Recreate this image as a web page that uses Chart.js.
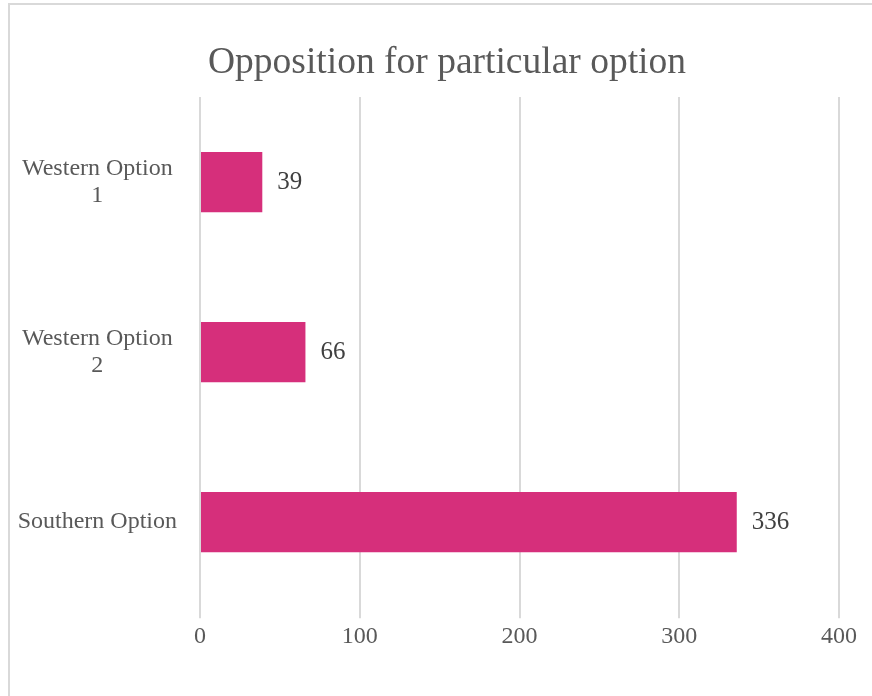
<!DOCTYPE html>
<html>
<head>
<meta charset="utf-8">
<script src="https://cdn.jsdelivr.net/npm/chart.js@4"></script>
<style>
  html, body { margin: 0; padding: 0; background: #fff; overflow: hidden; }
  #frame { position: absolute; left: 8px; top: 3px; width: 900px; height: 720px; border: 2px solid #d9d9d9; }
  #wrap { position: absolute; left: 0; top: 0; width: 872px; height: 696px; }
</style>
</head>
<body>
<div id="frame"></div>
<div id="wrap"><canvas id="chart"></canvas></div>
<script>
const categories = [['Western Option', '1'], ['Western Option', '2'], 'Southern Option'];
const opposition = [39, 66, 336];
const xTicks = [0, 100, 200, 300, 400];

// value labels next to each bar (no datalabels plugin available)
const barLabels = {
    id: 'barLabels',
    afterDatasetsDraw(chart) {
        const ctx = chart.ctx;
        ctx.save();
        ctx.font = '25px "Liberation Serif"';
        ctx.fillStyle = '#404040';
        ctx.textAlign = 'left';
        ctx.textBaseline = 'middle';
        chart.getDatasetMeta(0).data.forEach((bar, i) => {
            ctx.fillText(opposition[i], bar.x + 15, bar.y);
        });
        ctx.restore();
    }
};

new Chart(document.getElementById('chart'), {
    type: 'bar',
    data: {
        labels: categories,
        datasets: [{
            data: opposition,
            backgroundColor: '#d62f7b',
            categoryPercentage: 1,
            barPercentage: 0.354
        }]
    },
    options: {
        indexAxis: 'y',
        responsive: true,
        maintainAspectRatio: false,
        animation: false,
        // right padding is negative so the title centres like the original; the blank y2 axis keeps the plot edge
        layout: { padding: { top: 30, right: -7, bottom: 41, left: 15 } },
        plugins: {
            legend: { display: false },
            tooltip: { enabled: false },
            title: {
                display: true,
                text: 'Opposition for particular option',
                color: '#595959',
                font: { family: 'Liberation Serif', size: 37.5, weight: 'normal' },
                padding: { top: 11, bottom: 11 }
            }
        },
        scales: {
            x: {
                min: 0,
                max: 400,
                afterBuildTicks: (scale) => { scale.ticks = xTicks.map(v => ({ value: v })); },
                // tick marks in grid colour extend the gridlines below the bars, as in the original
                grid: { color: '#d9d9d9', lineWidth: 2, drawTicks: true, tickLength: 11 },
                border: { display: false },
                ticks: {
                    padding: 4,
                    color: '#595959',
                    font: { family: 'Liberation Serif', size: 24 }
                }
            },
            y: {
                afterFit: (scale) => { scale.width = 185; },
                grid: { display: false, drawTicks: false },
                border: { display: false },
                ticks: {
                    crossAlign: 'center',
                    padding: 23,
                    color: '#595959',
                    font: { family: 'Liberation Serif', size: 24, lineHeight: 1.125 }
                }
            },
            y2: {
                type: 'category',
                position: 'right',
                afterFit: (scale) => { scale.width = 40; },
                grid: { display: false, drawTicks: false },
                border: { display: false },
                ticks: { display: false }
            }
        }
    },
    plugins: [barLabels]
});
</script>
</body>
</html>
